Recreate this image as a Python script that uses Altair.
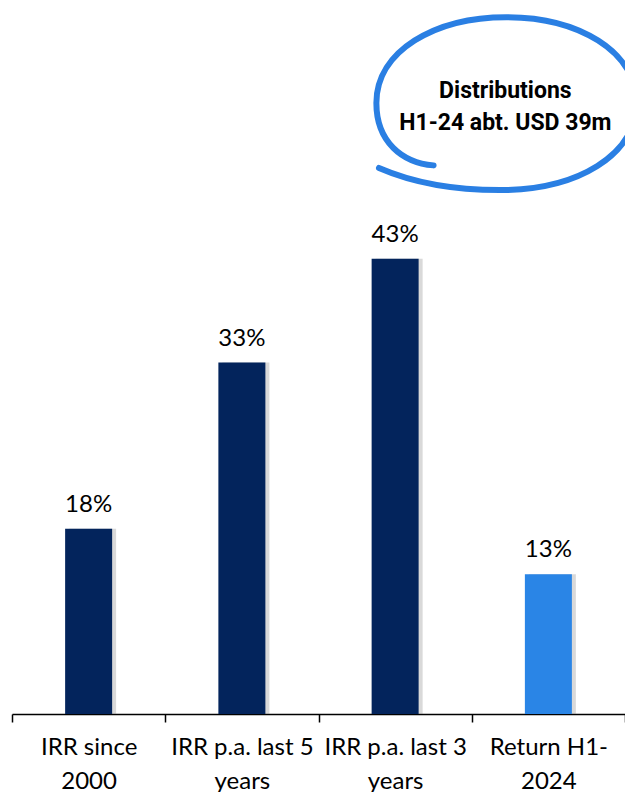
import altair as alt
import pandas as pd

categories = ["IRR since\n2000", "IRR p.a. last 5\nyears", "IRR p.a. last 3\nyears", "Return H1-\n2024"]
values = [17.5, 33.2, 43.0, 13.2]
labels = ["18%", "33%", "43%", "13%"]
bar_colors = ["#03245C", "#03245C", "#03245C", "#2A85E6"]

annotation_lines = ["Distributions", "H1-24 abt. USD 39m"]
annotation_category = "Return H1-\n2024"
annotation_value = 57

df = pd.DataFrame({"category": categories, "value": values, "label": labels})
ann = pd.DataFrame({"category": [annotation_category], "value": [annotation_value],
                    "text": [annotation_lines]})

x = alt.X("category:N", sort=categories,
          scale=alt.Scale(paddingInner=0, paddingOuter=0),
          axis=alt.Axis(title=None, labelAngle=0,
                        labelExpr="split(datum.label, '\\n')",
                        labelFont="Lato", labelFontSize=24, labelColor="black",
                        labelLineHeight=34, labelPadding=13, labelBaseline="top",
                        tickBand="extent", tickSize=8, tickColor="black", tickWidth=1.5,
                        domainColor="black", domainWidth=1.5, grid=False))
y = alt.Y("value:Q", scale=alt.Scale(domain=[0, 66.7], nice=False, zero=True), axis=None)

base = alt.Chart(df).encode(x=x, y=y)

shadow = base.mark_bar(size=47, color="#808080", opacity=0.3, xOffset=4)
bars = base.mark_bar(size=47).encode(
    color=alt.Color("category:N", scale=alt.Scale(domain=categories, range=bar_colors), legend=None)
)
value_text = base.mark_text(baseline="alphabetic", dy=-17, font="Lato", fontSize=24,
                            color="black").encode(text="label:N")

loop_path = ("M -0.56 0.48 C -0.80 0.46 -1.0 0.30 -1.0 0.0 "
             "C -1.0 -0.40 -0.55 -0.66 0.0 -0.66 "
             "C 0.55 -0.66 1.0 -0.40 1.0 0.0 "
             "C 1.0 0.40 0.55 0.67 -0.05 0.67 "
             "C -0.45 0.67 -0.75 0.60 -0.98 0.50")

ann_base = alt.Chart(ann).encode(x=alt.X("category:N", sort=categories), y=alt.Y("value:Q"))
loop = ann_base.mark_point(shape=loop_path, size=67600, filled=False, stroke="#2A7FE3",
                           strokeWidth=6, opacity=1, strokeCap="round",
                           xOffset=-42, yOffset=-7.7)
ann_text = ann_base.mark_text(baseline="alphabetic", align="center", dx=-43, dy=-12.7,
                              font="Roboto", fontWeight="bold", fontSize=23,
                              lineHeight=32, color="black").encode(text="text")

chart = alt.layer(shadow, bars, value_text, loop, ann_text).properties(
    width=613, height=706,
    padding={"left": 4, "top": 0, "right": 0, "bottom": 80},
    autosize=alt.AutoSizeParams(type="none"),
).configure_view(stroke=None)

chart.save("out.html", embed_options={"renderer": "svg", "actions": False})
